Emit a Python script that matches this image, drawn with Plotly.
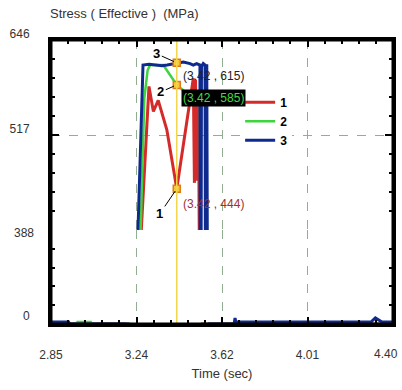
import plotly.graph_objects as go

# ---------------- data ----------------
t_1 = [2.85, 3.19, 3.294, 3.314, 3.336, 3.375, 3.42, 3.495, 3.500, 3.505, 3.510, 3.518, 3.530, 4.40]
s_1 = [0, 0, 583, 549, 564, 524, 444, 594, 452, 592, 455, 570, 0, 0]

t_2 = [2.85, 2.965, 2.97, 3.03, 3.035, 3.22, 3.273, 3.288, 3.299, 3.359, 3.42, 3.50, 3.525, 3.53, 4.40]
s_2 = [0, 0, 8, 8, 0, 0, 567, 605, 612, 612, 585, 565, 560, 0, 0]

t_3 = [2.85, 2.93, 2.935, 3.205, 3.267, 3.294, 3.353, 3.376, 3.42, 3.45, 3.48, 3.495, 3.51, 3.525,
       3.528, 3.532, 3.54, 3.548, 3.552, 3.556, 3.562, 3.68, 3.684, 3.688, 4.30, 4.32, 4.35, 4.40]
s_3 = [8, 8, 0, 0, 612, 613, 611, 612, 615, 616, 614, 612, 614, 612,
       0, 610, 614, 612, 0, 613, 0, 0, 25, 8, 8, 25, 8, 8]

series_names = ["1", "2", "3"]
series_colors = ["#d42a2a", "#3ed43e", "#0f2a8e"]
series_widths = [3, 2.5, 3]

CURSOR_T = 3.42

x_tick_vals = [2.85, 3.2375, 3.625, 4.0125, 4.40]
x_tick_text = ["2.85", "3.24", "3.62", "4.01", "4.40"]
y_upper_ticks = [388, 517, 646]
y_upper_text = ["", "517", "646"]
y_break = 388
y_top = 646
y_lower_ticks = [0]

FONT = "Liberation Sans, Arial, sans-serif"

fig = go.Figure()
all_t = [t_1, t_2, t_3]
all_s = [s_1, s_2, s_3]

# upper band (388..646)
for name, tt, ss, col, w in zip(series_names, all_t, all_s, series_colors, series_widths):
    fig.add_trace(go.Scatter(x=tt, y=ss, mode="lines", name=name,
                             line=dict(color=col, width=w), xaxis="x", yaxis="y"))
# lower band (0..388): only the segments that sit inside that band
for name, tt, ss, col, w in zip(series_names, all_t, all_s, series_colors, series_widths):
    low = [v if v < y_break else None for v in ss]
    fig.add_trace(go.Scatter(x=tt, y=low, mode="lines", name=name, showlegend=False,
                             connectgaps=False,
                             line=dict(color=col, width=w), xaxis="x", yaxis="y2"))

# invisible helpers so the frame axes get drawn
for xa, ya in [("x2", "y"), ("x", "y3"), ("x", "y4"), ("x", "y5")]:
    fig.add_trace(go.Scatter(x=[2.85], y=[y_break], mode="markers", showlegend=False,
                             hoverinfo="skip", marker=dict(opacity=0), xaxis=xa, yaxis=ya))

# cursor readings
cursor_vals = [ss[tt.index(CURSOR_T)] for tt, ss in zip(all_t, all_s)]
fig.add_trace(go.Scatter(x=[CURSOR_T] * 3, y=cursor_vals, mode="markers", showlegend=False,
                         hoverinfo="skip",
                         marker=dict(symbol="square", size=7, color="#f6c93c",
                                     line=dict(color="#e07b1a", width=1.5)),
                         xaxis="x", yaxis="y"))

annotations = []
label_offsets = {"1": (-17, 25), "2": (-16, 7), "3": (-20, -9)}
value_styles = {
    "1": dict(font=dict(color="#a03030", size=12, family=FONT), bgcolor=None, yshift=-15),
    "2": dict(font=dict(color="#45d945", size=12, family=FONT), bgcolor="black", yshift=-13),
    "3": dict(font=dict(color="#222222", size=12, family=FONT), bgcolor=None, yshift=-13),
}
for name, v in zip(series_names, cursor_vals):
    ax, ay = label_offsets[name]
    annotations.append(dict(x=CURSOR_T, y=v, xref="x", yref="y", text=f"<b>{name}</b>",
                            showarrow=True, arrowhead=0, arrowwidth=1, arrowcolor="black",
                            ax=ax, ay=ay, standoff=3,
                            font=dict(size=13, color="black", family=FONT)))
    st = value_styles[name]
    a = dict(x=CURSOR_T, y=v, xref="x", yref="y", text=f"({CURSOR_T:.2f} , {v:.0f})",
             showarrow=False, xanchor="left", yanchor="middle", xshift=4, yshift=st["yshift"],
             font=st["font"], borderpad=1)
    if st["bgcolor"]:
        a["bgcolor"] = st["bgcolor"]
    annotations.append(a)
# last x tick label, drawn slightly inside the page like the reference
annotations.append(dict(x=x_tick_vals[-1], y=0, xref="x", yref="paper", text=x_tick_text[-1],
                        showarrow=False, xanchor="center", yanchor="middle", xshift=-7,
                        yshift=-30, font=dict(size=12, color="#333333", family=FONT)))

axis_common = dict(showline=True, linecolor="black", linewidth=3, ticks="inside",
                   tickcolor="black", tickwidth=2, zeroline=False, automargin=False,
                   tickfont=dict(size=12, color="#333333", family=FONT))

upper_dom = [0.331, 1.0]
lower_dom = [0.0, 0.331]

minor_up = dict(ticks="inside", ticklen=4, tickcolor="black", tickwidth=1.5,
                tick0=y_break, dtick=25.8, showgrid=False)
minor_low = dict(ticks="inside", ticklen=4, tickcolor="black", tickwidth=1.5,
                 tick0=0, dtick=77.6, showgrid=False)

fig.update_layout(
    width=402, height=390,
    margin=dict(l=51, r=9, t=40, b=66),
    paper_bgcolor="white", plot_bgcolor="white",
    font=dict(family=FONT, color="#333333"),
    title=dict(text="Stress ( Effective )  (MPa)", x=50 / 402, y=1 - 13 / 390,
               xanchor="left", yanchor="middle", xref="container", yref="container",
               font=dict(size=13, color="#333333", family=FONT)),
    xaxis=dict(**axis_common, anchor="y2", range=[2.85, 4.40], tickvals=x_tick_vals,
               ticktext=x_tick_text[:-1] + [""], ticklen=7, ticklabelstandoff=18,
               minor=dict(ticks="inside", ticklen=4, tickcolor="black", tickwidth=1.5,
                          tick0=2.85, dtick=0.0775, showgrid=False),
               showgrid=True, gridcolor="#93ad93", griddash="dash", gridwidth=1,
               title=dict(text="Time (sec)", standoff=8,
                          font=dict(size=13, color="#333333", family=FONT))),
    xaxis2=dict(**axis_common, overlaying="x", anchor="y", side="top", range=[2.85, 4.40],
                tickvals=x_tick_vals, ticklen=7, showticklabels=False, showgrid=False,
                minor=dict(ticks="inside", ticklen=4, tickcolor="black", tickwidth=1.5,
                           tick0=2.85, dtick=0.0775)),
    yaxis=dict(**axis_common, domain=upper_dom, range=[y_break, y_top], anchor="x",
               tickvals=y_upper_ticks, ticktext=y_upper_text, ticklen=8,
               ticklabelstandoff=16, ticklabelshift=-6, minor=minor_up,
               showgrid=True, gridcolor="#9aa89a", griddash="dash", gridwidth=1),
    yaxis2=dict(**axis_common, domain=lower_dom, range=[0, y_break], anchor="x",
                tickvals=y_lower_ticks, ticklen=8,
                ticklabelstandoff=16, ticklabelshift=-8, minor=minor_low, showgrid=False),
    yaxis3=dict(overlaying="y", anchor="x", range=[y_break, y_top], tickvals=[y_break],
                showline=False, ticks="", zeroline=False, showgrid=True, automargin=False,
                gridcolor="#e4eae4", gridwidth=1, ticklabelstandoff=16, ticklabelshift=3,
                tickfont=dict(size=12, color="#333333", family=FONT)),
    # right-hand frame ticks (upper and lower bands)
    yaxis4=dict(**axis_common, overlaying="y", anchor="x",
                side="right", range=[y_break, y_top], tickvals=y_upper_ticks, ticklen=8,
                showticklabels=False, showgrid=False, minor=minor_up),
    yaxis5=dict(**axis_common, overlaying="y2", anchor="x",
                side="right", range=[0, y_break], tickvals=y_lower_ticks, ticklen=8,
                showticklabels=False, showgrid=False, minor=minor_low),
    legend=dict(x=0.553, y=0.832, xanchor="left", yanchor="top", bgcolor="white",
                font=dict(size=12, color="black", family=FONT, weight="bold"),
                itemwidth=30, tracegroupgap=0),
    showlegend=True,
    annotations=annotations,
    shapes=[
        dict(type="line", xref="x", yref="paper", x0=CURSOR_T, x1=CURSOR_T, y0=0, y1=1,
             line=dict(color="#f2d64b", width=1.5), layer="above"),
        dict(type="rect", xref="paper", yref="paper", x0=0, x1=1, y0=0, y1=1,
             line=dict(color="black", width=3), layer="above"),
    ],
)

fig.write_html("out.html", config={"displayModeBar": False},
               post_script="document.body.style.margin='0';"
                           "document.body.style.overflow='hidden';"
                           "document.documentElement.style.overflow='hidden';")
